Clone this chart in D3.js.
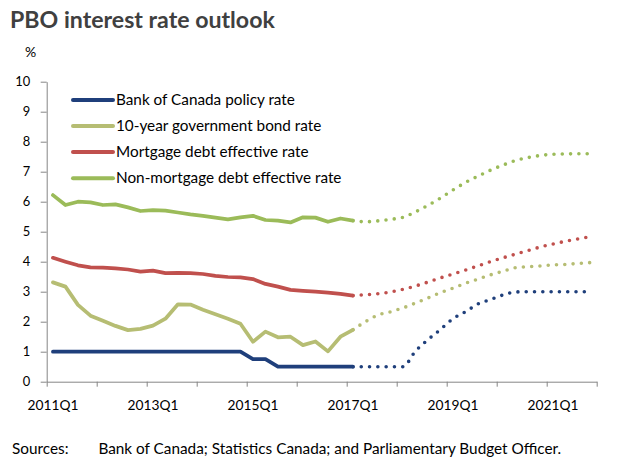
<!DOCTYPE html>
<html><head><meta charset="utf-8">
<script src="https://cdn.jsdelivr.net/npm/d3@7"></script>
<style>
body{margin:0;background:#fff;}
svg{display:block;font-family:Lato, "Open Sans", sans-serif;}
</style>
</head><body>
<svg id="chart" width="640" height="465"></svg>
<script>
// ---------- data ----------
const categories = [
  "2011Q1","2011Q2","2011Q3","2011Q4","2012Q1","2012Q2","2012Q3","2012Q4",
  "2013Q1","2013Q2","2013Q3","2013Q4","2014Q1","2014Q2","2014Q3","2014Q4",
  "2015Q1","2015Q2","2015Q3","2015Q4","2016Q1","2016Q2","2016Q3","2016Q4",
  "2017Q1","2017Q2","2017Q3","2017Q4","2018Q1","2018Q2","2018Q3","2018Q4",
  "2019Q1","2019Q2","2019Q3","2019Q4","2020Q1","2020Q2","2020Q3","2020Q4",
  "2021Q1","2021Q2","2021Q3","2021Q4"];
const xTickLabels = ["2011Q1","2013Q1","2015Q1","2017Q1","2019Q1","2021Q1"];
const yTickValues = [0,1,2,3,4,5,6,7,8,9,10];
const seriesNames = ["Bank of Canada policy rate","10-year government bond rate",
  "Mortgage debt effective rate","Non-mortgage debt effective rate"];
const forecastStart = "2017Q1";

// actual: 2011Q1..2017Q1
const policyActual = [1,1,1,1,1,1,1,1,1,1,1,1,1,1,1,1,0.75,0.75,0.5,0.5,0.5,0.5,0.5,0.5,0.5];
const bondActual = [3.31,3.17,2.56,2.2,2.03,1.86,1.72,1.76,1.87,2.1,2.58,2.57,2.4,2.25,2.1,1.93,
  1.33,1.67,1.48,1.5,1.22,1.34,1.01,1.5,1.73];
const mortgageActual = [4.13,4.0,3.88,3.81,3.8,3.78,3.74,3.67,3.7,3.62,3.63,3.62,3.59,3.53,3.49,3.48,
  3.42,3.26,3.17,3.06,3.03,3.0,2.97,2.93,2.87];
const nonMortgageActual = [6.22,5.89,6.0,5.98,5.89,5.91,5.81,5.69,5.72,5.7,5.64,5.58,5.53,5.47,5.41,5.48,
  5.53,5.39,5.37,5.31,5.48,5.47,5.33,5.44,5.37];

// forecast: 2017Q1..2021Q4
const policyForecast = [0.5,0.5,0.5,0.5,0.5,1.02,1.4,1.74,2.1,2.33,2.59,2.74,2.89,2.99,3.0,3.0,3.0,3.0,3.0,3.0];
const bondForecast = [1.73,2.0,2.22,2.33,2.46,2.62,2.79,2.97,3.12,3.28,3.42,3.56,3.68,3.8,3.83,3.86,3.89,3.91,3.94,3.97];
const mortgageForecast = [2.87,2.9,2.93,2.99,3.08,3.19,3.32,3.46,3.59,3.72,3.86,4.0,4.13,4.25,4.37,4.49,4.59,4.68,4.76,4.83];
const nonMortgageForecast = [5.37,5.33,5.36,5.41,5.48,5.66,5.88,6.12,6.39,6.64,6.85,7.05,7.22,7.37,7.47,7.54,7.58,7.59,7.6,7.6];

const colors = ["#1f3f7b","#b6bd73","#c0504d","#9bbb59"];

// ---------- layout ----------
const svg = d3.select("#chart");
const plot = {left:46.7, right:596.7, top:81.7, bottom:381.7};

const x = d3.scaleBand().domain(categories).range([plot.left, plot.right]).padding(0);
const xc = c => x(c) + x.bandwidth()/2;
const xBound = d3.scaleLinear().domain([0, categories.length]).range([plot.left, plot.right]);
const y = d3.scaleLinear().domain([0,10]).range([plot.bottom, plot.top]);

function fitWidth(sel, target){
  const node = sel.node();
  const fs = parseFloat(sel.attr("font-size"));
  const w = node.getComputedTextLength();
  const nfs = fs * target / w;
  return nfs;
}

// title
const title = svg.append("text").attr("x",10).attr("y",28.3)
  .attr("font-size",22).attr("font-weight","bold").attr("fill","#404040")
  .text("PBO interest rate outlook");
title.attr("font-size", fitWidth(title, 265));

// unit label
svg.append("text").attr("x",30.5).attr("y",57).attr("text-anchor","middle")
  .attr("font-size",14).attr("fill","#000").text("%");

// measure tick font size
const probe = svg.append("text").attr("font-size",14).text("10");
const tickFs = fitWidth(probe, 15);
probe.text("2011Q1");
const xFs = fitWidth(probe, 51);
probe.remove();

// y axis
const yAxis = svg.append("g").attr("transform",`translate(${plot.left},0)`)
  .call(d3.axisLeft(y).tickValues(yTickValues).tickSize(6).tickSizeOuter(0).tickPadding(10.5));
yAxis.select(".domain").attr("stroke","#868686");
yAxis.selectAll(".tick line").attr("stroke","#868686");
yAxis.selectAll("text").attr("font-size",tickFs).attr("font-family","Lato, sans-serif").attr("fill","#000");

// x axis tick marks (category boundaries every year)
const xAxis = svg.append("g").attr("transform",`translate(0,${plot.bottom})`)
  .call(d3.axisBottom(xBound).tickValues(d3.range(0, categories.length+1, 4)).tickFormat("").tickSize(5).tickSizeOuter(0));
xAxis.select(".domain").attr("stroke","#868686");
xAxis.selectAll(".tick line").attr("stroke","#868686");

// x labels
const xLab = svg.append("g").attr("transform",`translate(0,${plot.bottom})`)
  .call(d3.axisBottom(x).tickValues(xTickLabels).tickSize(0));
xLab.select(".domain").remove();
xLab.selectAll("text").attr("y",28).attr("dy",0).attr("font-size",xFs)
  .attr("font-family","Lato, sans-serif").attr("fill","#000");

// ---------- lines ----------
const actual = [policyActual, bondActual, mortgageActual, nonMortgageActual];
const forecast = [policyForecast, bondForecast, mortgageForecast, nonMortgageForecast];
const fIdx = categories.indexOf(forecastStart);

const lineA = d3.line().x(d => xc(d.c)).y(d => y(d.v)).curve(d3.curveLinear);
const lineF = d3.line().x(d => xc(d.c)).y(d => y(d.v)).curve(d3.curveMonotoneX);

const lines = svg.append("g");
actual.forEach((arr, k) => {
  const pts = arr.map((v,i) => ({c:categories[i], v}));
  lines.append("path").attr("d", lineA(pts)).attr("fill","none")
    .attr("stroke",colors[k]).attr("stroke-width",3.75)
    .attr("stroke-linejoin","round").attr("stroke-linecap","round");
});
forecast.forEach((arr, k) => {
  const pts = arr.map((v,i) => ({c:categories[fIdx+i], v}));
  lines.append("path").attr("d", lineF(pts)).attr("fill","none")
    .attr("stroke",colors[k]).attr("stroke-width",3.6)
    .attr("stroke-dasharray","0 8.3").attr("stroke-linecap","round");
});

// ---------- legend ----------
const legend = svg.append("g");
const legendY = [100,126,152,178.3];
seriesNames.forEach((name,k) => {
  legend.append("line").attr("x1",73).attr("x2",113).attr("y1",legendY[k]).attr("y2",legendY[k])
    .attr("stroke",colors[k]).attr("stroke-width",4).attr("stroke-linecap","round");
});
const lt = legend.selectAll("text.leg").data(seriesNames).join("text").attr("class","leg")
  .attr("x",116).attr("y",(d,k)=>legendY[k]+5).attr("font-size",14).attr("fill","#000").text(d=>d);
const legFs = fitWidth(d3.select(lt.nodes()[0]), 179);
lt.attr("font-size", legFs);

// ---------- source ----------
const s1 = svg.append("text").attr("x",12).attr("y",453.5).attr("font-size",14).attr("fill","#000").text("Sources:");
const s2 = svg.append("text").attr("x",98.4).attr("y",453.5).attr("font-size",14).attr("fill","#000")
  .text("Bank of Canada; Statistics Canada; and Parliamentary Budget Officer.");
const sFs = fitWidth(s2, 463);
s2.attr("font-size", sFs); s1.attr("font-size", sFs);
</script>
</body></html>
